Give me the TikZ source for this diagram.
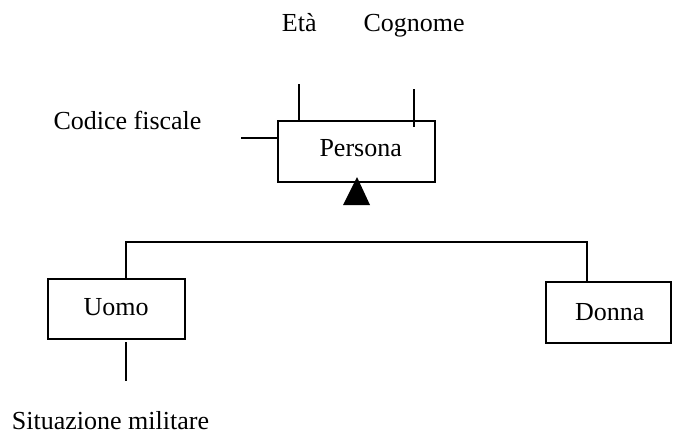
\documentclass[tikz,border=0pt]{standalone}
\usepackage{fontspec}
\setmainfont{Liberation Serif}
\begin{document}
\begin{tikzpicture}[x=1pt,y=-1pt,
  entity/.style={draw, line width=2pt, inner sep=0pt, font=\fontsize{26}{30}\selectfont},
  label/.style={anchor=base west, inner sep=0pt, font=\fontsize{26}{30}\selectfont},
  link/.style={line width=2pt}]
\useasboundingbox (0,0) rectangle (678,432);

% entities
\node[entity, minimum width=157pt, minimum height=61pt] (persona) at (356.5,151.5) {};
\node[entity, minimum width=137pt, minimum height=60pt] (uomo) at (116.5,309) {};
\node[entity, minimum width=125pt, minimum height=61pt] (donna) at (608.5,312.5) {};
\node[label] (personaT) at (319.3,156.7) {Persona};
\node[label] (uomoT) at (83.3,315.7) {Uomo};
\node[label] (donnaT) at (575,320) {Donna};

% attribute names
\node[label] (eta) at (281.7,31.7) {Età};
\node[label] (cognome) at (363.3,31.7) {Cognome};
\node[label] (codice) at (53.3,129.3) {Codice fiscale};
\node[label] (situazione) at (11.7,429) {Situazione militare};

% attribute stubs
\coordinate (etaEnd) at (299,84);
\coordinate (cognomeEnd) at (414,89);
\coordinate (cognomeIn) at (414,127);
\coordinate (codiceEnd) at (241,138);
\coordinate (sitTop) at (126,342);
\coordinate (sitEnd) at (126,381);
\draw[link] (etaEnd) -- (etaEnd |- persona.north);
\draw[link] (cognomeEnd) -- (cognomeIn);
\draw[link] (codiceEnd) -- (codiceEnd -| persona.west);
\draw[link] (sitTop) -- (sitEnd);

% generalisation
\coordinate (triTop) at (357,177);
\coordinate (triLeft) at (343,205);
\coordinate (triRight) at (370,205);
\fill (triTop) -- (triRight) -- (triLeft) -- cycle;
\coordinate (barL) at (126,242);
\coordinate (barR) at (587,242);
\draw[link] (barL |- uomo.north) -- (barL) -- (barR) -- (barR |- donna.north);
\end{tikzpicture}
\end{document}
